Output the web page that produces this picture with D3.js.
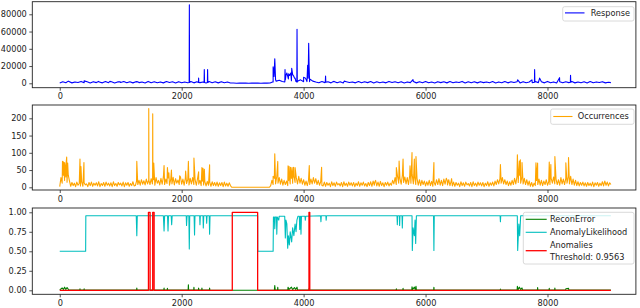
<!DOCTYPE html>
<html><head><meta charset="utf-8">
<script src="https://cdn.jsdelivr.net/npm/d3@7"></script>
<style>body{margin:0;background:#fff}svg{display:block}text{font-family:"DejaVu Sans",sans-serif}</style>
</head><body><svg id="c" width="640" height="308"></svg>
<script>
// ---------- data ----------
const xTicks = [0, 2000, 4000, 6000, 8000];
const responseTicks = [0, 20000, 40000, 60000, 80000];
const occTicks = [0, 50, 100, 150, 200];
const probTicks = [0, 0.25, 0.5, 0.75, 1];

// Response: baseline segments [startIndex, values every 50 steps], plus spikes [x, value]
const responseStep = 50;
const responseBase = [
  [0, [400,1800,700,2000,500,1600,900,2200,600,1700,400,1900,800,1500,500,2100,700,1800,400,1600,900,2000,600,1700,500,1900,800,1500,400,2200,700,1800,600,1600,500,2000,900,1700,400,1900,700,1500,600,2100,500,1800,800,1600,400,2000,700,1700,500,1900,600,1500,400]],
  [2850, [300,100,350,150,300,100,350,150,300,100,350,150]],
  [3450, [400,1500,2500,3500,2000,4000,5000,3000,6000,2500,4000,2000,3000,5000,2500]],
  [4200, [1500,600,2000,800,1700,500,2200,700,1800,400,1900,900,1600,500,2100,600,1700,800,2000,400,1800,700,1500,500,2200,900,1700,600,1900,400,1600,800,2000,500,1800,700,2100,600,1500,400,1900,800,1700,500,2000,700,1600,900,2200,400,1800,600,1700,500,1900,800,1500,700,2000,400,1600,600,2100,500,1800,900,1700,400,1900,700,1500,600,2000,800,1800,500,2200,700,1600,400,1900,600,1700,800,2000,500,1500,700,1800,400,2100,600,1600,900,1900,500,1200]]
];
const responseSpikes = [[141,2500],[400,2800],[638,2200],[823,2200],[986,1800],[1280,1700],
  [2123,1000],[2126,91000],[2129,1000],[2276,1000],[2278,6000],[2281,1000],
  [2368,1000],[2371,16000],[2375,1000],[2422,1000],[2425,16000],[2429,1000],
  [3490,1500],[3500,19000],[3515,8000],[3527,28500],[3540,4000],
  [3692,1500],[3695,16000],[3710,9000],[3725,12000],[3740,8000],[3755,11000],[3770,9000],[3790,12000],[3805,17400],[3820,10000],[3840,8000],[3860,6000],[3875,2000],
  [3889,1500],[3892,62600],[3896,1500],[3995,2000],[4000,7000],[4030,6000],[4055,2000],[4066,21000],[4075,6000],[4083,46400],[4090,20000],[4098,2000],
  [4356,1200],[4360,8500],[4364,1200],[4480,1800],[4666,2500],[5794,4200],
  [7511,4000],[7745,4000],[7786,1200],[7789,15800],[7793,1200],[7871,6000],[8198,6500],[8375,1200],[8378,9300],[8382,1200],[9040,800]];

// Occurrences: baseline segments [startIndex, values every 20 steps], plus spikes [x, value]
const occStep = 20;
const occBase = [
  [0, [2,28,12,35,20,30,15,35,18]],
  [180, [3,14,5,12,2,15,6,11,4,16,3,13,7,10,2,14,5,15,3,12,6,13,4,16,2,11,5,14,3,15,6,12,4,13,2,16,5,11,3,14,7,12,4,15,2,13,6,14,3,11,5,16,4]],
  [1240, [5,18,8,20,6,22,9,19,7,24,10,20]],
  [1480, [8,25,10,22,6,28,12,20,7,26,9,30,8,24,11,27,6,22,10,29,7,25,12,21,8,30,9,24,6,27,11,23,7,26,10,28,8,22,6,25,9,20,5,18,7,16,4,17,6,15,3,16,5,14,4,15,3,13,5,14,2,15,4,12,3,13,5,0]],
  [2840, [0,0,0,0,0,0,0,0,0,0,0,0,0,0,0,0,0,0,0,0,0,0,0,0,0,0,0,0,0,0]],
  [3440, [0,5,20,8,26,10,32,12,28,9,24,6,20,8,18,5,22,10,26,12,30,14,28,10,32,12,26,9,22,6,18,5,20,8,24,10,28,12,25,8,20,6,16,5]],
  [4320, [4,15,3,14,6,12,2,16,5,13,3,15,7,11,4,14,2,16,5,12,3,15,6,13,4,14,2,12,5,16,3,13,6,15,4,11,2,14,5,16,3,18,6,20,4,15,3,17,5,13,2,14,6,15,4,12]],
  [5440, [6,20,10,28,8,32,12,26,9,35,14,30,10,28,8,34,12,38,10,30,8,26,6,22,5,20,8,18,4,16,6,20,5,17,3,15,6,22,8,25,6,20,5,24,9,26,7,22,5,18]],
  [6440, [4,15,3,14,6,12,2,16,5,13,3,15,7,11,4,14,2,16,5,12,3,15,6,13,4,14,2,12,5,16,3,13,6,15,4,18,8,22,10,25]],
  [7240, [12,28,10,22,8,18,5,16,6,20,8,26,10,32,14,35,12,30,10,26,8,22,6,18,3,14,2,12,5,20,8,24,6,20,5,18,8,22,6,16,8,26,12,30,10,24,8,22,6,28,10,24,8,26,12,30,10,32,8,24,6,20,5,16,4,14,6,15,4,13]],
  [8640, [3,14,5,12,4,15,2,13,6,14,3,12,5,16,4,18,6,15,4,13,8]]
];
const occSpikes = [[45,75],[60,74],[80,72],[100,60],[114,88],[130,70],[332,82],[348,60],[397,72],[1264,75],
  [1458,20],[1460,228],[1463,20],[1523,20],[1525,213],[1528,25],[1542,70],[1711,63],[1766,57],[1790,42],[1832,50],[1967,33],
  [2065,47],[2110,75],[2201,85],[2278,45],[2332,57],[2350,55],[2372,52],[2458,65],
  [3500,32],[3527,97],[3576,75],[3745,62],[3752,20],[3762,60],[3770,25],[3785,58],[3795,30],[3810,57],[3822,25],[3835,58],[3845,30],[3860,57],
  [4093,63],[4295,58],[5167,15],[5521,57],[5566,76],[5631,82],[5745,62],[5778,101],[5816,82],[5843,89],[6137,72],[6355,20],[6427,25],
  [7228,66],[7506,94],[7539,76],[7555,80],[7582,72],[7811,71],[7838,70],[8029,73],[8055,66],[8121,89],[8301,71],[8345,86],[8934,15]];

const reconError = [[0,0.005],[40,0.03],[60,0.01],[80,0.04],[100,0.01],[120,0.035],[150,0.004],[328,0.004],[332,0.02],[336,0.004],
  [396,0.004],[400,0.02],[404,0.004],[1260,0.004],[1264,0.03],[1268,0.004],[1707,0.004],[1711,0.03],[1715,0.004],[1762,0.004],[1766,0.025],[1770,0.004],
  [2106,0.004],[2110,0.07],[2114,0.004],[2197,0.004],[2201,0.04],[2205,0.004],[2274,0.004],[2278,0.03],[2282,0.004],[2328,0.004],[2332,0.03],[2336,0.004],
  [2454,0.004],[2458,0.03],[2462,0.004],[2830,0.0],[3240,0.0],[3520,0.004],[3527,0.06],[3534,0.004],[3572,0.004],[3576,0.04],[3580,0.004],
  [3740,0.004],[3745,0.04],[3760,0.01],[3800,0.04],[3820,0.01],[3850,0.035],[3870,0.01],[3892,0.04],[3900,0.004],[4089,0.004],[4093,0.03],[4097,0.004],
  [5517,0.004],[5521,0.02],[5525,0.004],[5627,0.004],[5631,0.025],[5635,0.004],[5774,0.004],[5778,0.045],[5790,0.01],[5816,0.04],[5830,0.01],[5843,0.05],[5850,0.004],
  [6133,0.004],[6137,0.04],[6141,0.004],[7224,0.004],[7228,0.015],[7232,0.004],[7502,0.004],[7506,0.05],[7520,0.01],[7539,0.04],[7560,0.01],[7582,0.03],[7590,0.004],
  [7834,0.004],[7838,0.035],[7842,0.004],[8025,0.004],[8029,0.025],[8033,0.004],[8117,0.004],[8121,0.03],[8125,0.004],[8297,0.004],[8301,0.02],[8345,0.025],[8350,0.004],[9040,0.004]];

const anomalyLikelihood = [[0,0.5],[425,0.5],[428,0.955],[1255,0.955],[1264,0.70],[1272,0.955],[1700,0.955],[1711,0.76],[1720,0.955],[1768,0.955],[1776,0.76],[1784,0.955],
  [1828,0.955],[1836,0.84],[1844,0.955],[2075,0.955],[2080,0.83],[2088,0.955],[2118,0.955],[2125,0.53],[2132,0.955],[2204,0.955],[2211,0.71],[2218,0.955],
  [2295,0.955],[2300,0.84],[2306,0.955],[2350,0.955],[2355,0.80],[2362,0.955],[2405,0.955],[2410,0.86],[2416,0.955],[2452,0.955],[2458,0.72],[2465,0.955],
  [3246,0.955],[3248,0.5],[3500,0.5],[3505,0.94],[3520,0.94],[3527,0.79],[3535,0.94],[3555,0.94],[3560,0.72],[3568,0.94],[3592,0.90],[3600,0.95],
  [3690,0.95],[3700,0.67],[3710,0.90],[3725,0.85],[3739,0.54],[3750,0.70],[3766,0.58],[3780,0.75],[3804,0.62],[3820,0.80],[3840,0.70],[3860,0.85],[3876,0.75],[3890,0.90],[3908,0.95],
  [3930,0.95],[3936,0.78],[3942,0.93],[3950,0.95],[3957,0.72],[3965,0.95],[4022,0.95],[4028,0.90],[4035,0.95],[4278,0.955],[4284,0.88],[4290,0.955],[4365,0.955],[4370,0.90],[4376,0.955],
  [5532,0.955],[5537,0.84],[5542,0.955],[5570,0.955],[5575,0.83],[5580,0.955],[5614,0.955],[5619,0.80],[5624,0.955],
  [5778,0.955],[5783,0.51],[5795,0.80],[5816,0.70],[5828,0.90],[5838,0.60],[5850,0.955],[6131,0.955],[6137,0.51],[6143,0.955],
  [7223,0.955],[7228,0.88],[7233,0.955],[7505,0.955],[7511,0.51],[7530,0.85],[7544,0.70],[7560,0.955],[9040,0.955]];

const anomalies = [[0,0],[1455,0],[1455,1],[1482,1],[1482,0],[1525,0],[1525,1],[1548,1],[1548,0],
  [2830,0],[2830,1],[3246,1],[3246,0],[4088,0],[4088,1],[4101,1],[4101,0],[9040,0]];

// ---------- chart ----------
const svg = d3.select("#c");
const FS = 8.2;
const x = d3.scaleLinear().domain([-450, 9450]).range([32.3, 635.9]);

function build(segments, step, spikes) {
  return segments.flatMap(([start, vals]) => vals.map((v, i) => [start + i * step, v]))
    .concat(spikes).sort((a, b) => a[0] - b[0]);
}

function panel(id, top, bottom, yDomain, yTicks, fmt, series, legend) {
  const y = d3.scaleLinear().domain(yDomain).range([bottom, top]);
  const g = svg.append("g");
  g.append("clipPath").attr("id", "clip" + id).append("rect")
    .attr("x", x.range()[0]).attr("y", top).attr("width", x.range()[1] - x.range()[0]).attr("height", bottom - top);
  const plot = g.append("g").attr("clip-path", `url(#clip${id})`);
  series.forEach(s => {
    plot.append("path").datum(s.data)
      .attr("fill", "none").attr("stroke", s.color).attr("stroke-width", s.width)
      .attr("stroke-linejoin", "round")
      .attr("d", d3.line().x(d => x(d[0])).y(d => y(d[1])));
  });
  const xa = g.append("g").attr("transform", `translate(0,${bottom})`)
    .call(d3.axisBottom(x).tickValues(xTicks).tickSize(3).tickPadding(2.8).tickFormat(d3.format("d")));
  const ya = g.append("g").attr("transform", `translate(${x.range()[0]},0)`)
    .call(d3.axisLeft(y).tickValues(yTicks).tickSize(3).tickPadding(2.5).tickFormat(fmt));
  [xa, ya].forEach(a => {
    a.select(".domain").remove();
    a.selectAll("line").attr("stroke", "#222").attr("stroke-width", 0.8);
    a.selectAll("text").attr("fill", "#222").style("font-size", FS + "px").style("font-family", "DejaVu Sans");
  });
  g.append("rect").attr("x", x.range()[0]).attr("y", top)
    .attr("width", x.range()[1] - x.range()[0]).attr("height", bottom - top)
    .attr("fill", "none").attr("stroke", "#222").attr("stroke-width", 0.9);
  // legend
  const L = legend;
  const lg = g.append("g");
  lg.append("rect").attr("x", L.x0).attr("y", L.y0).attr("width", L.x1 - L.x0).attr("height", L.y1 - L.y0)
    .attr("rx", 2).attr("fill", "#fff").attr("fill-opacity", 0.8).attr("stroke", "#d0d0d0").attr("stroke-width", 0.8);
  L.items.forEach(it => {
    if (it.color) {
      lg.append("line").attr("x1", L.lx0).attr("x2", L.lx1).attr("y1", it.ly).attr("y2", it.ly)
        .attr("stroke", it.color).attr("stroke-width", it.width);
    }
    lg.append("text").attr("x", L.tx).attr("y", it.ty).attr("dy", "0.35em")
      .attr("fill", "#222").style("font-size", FS + "px").text(it.label);
  });
}

panel(1, 1.7, 87.7, [-5100, 94600], responseTicks, d3.format("d"),
  [{data: build(responseBase, responseStep, responseSpikes), color: "#0000ff", width: 1.1}],
  {x0: 562.7, x1: 634, y0: 6.7, y1: 21, lx0: 565, lx1: 584.5, tx: 590.7,
   items: [{label: "Response", color: "#0000ff", width: 1.1, ly: 12.9, ty: 12.9}]});

panel(2, 105, 190, [-7.83, 238.55], occTicks, d3.format("d"),
  [{data: build(occBase, occStep, occSpikes), color: "#ffa500", width: 1.1}],
  {x0: 550.7, x1: 634, y0: 109, y1: 124.3, lx0: 553.3, lx1: 572.5, tx: 577.7,
   items: [{label: "Occurrences", color: "#ffa500", width: 1.1, ly: 116.5, ty: 116.5}]});

panel(3, 208, 294.3, [-0.0513, 1.055], probTicks, d3.format(".2f"),
  [{data: reconError, color: "#008000", width: 1.1},
   {data: anomalyLikelihood, color: "#00bfbf", width: 1.1},
   {data: anomalies, color: "#ff0000", width: 1.3}],
  {x0: 523.3, x1: 634, y0: 212.3, y1: 264, lx0: 525.7, lx1: 546.7, tx: 550,
   items: [{label: "ReconError", color: "#008000", width: 1.1, ly: 219.3, ty: 219.3},
           {label: "AnomalyLikelihood", color: "#00bfbf", width: 1.1, ly: 232.3, ty: 232.3},
           {label: "Anomalies", color: "#ff0000", width: 1.3, ly: 250.7, ty: 245},
           {label: "Threshold: 0.9563", color: null, ly: 0, ty: 256.7}]});
</script></body></html>
